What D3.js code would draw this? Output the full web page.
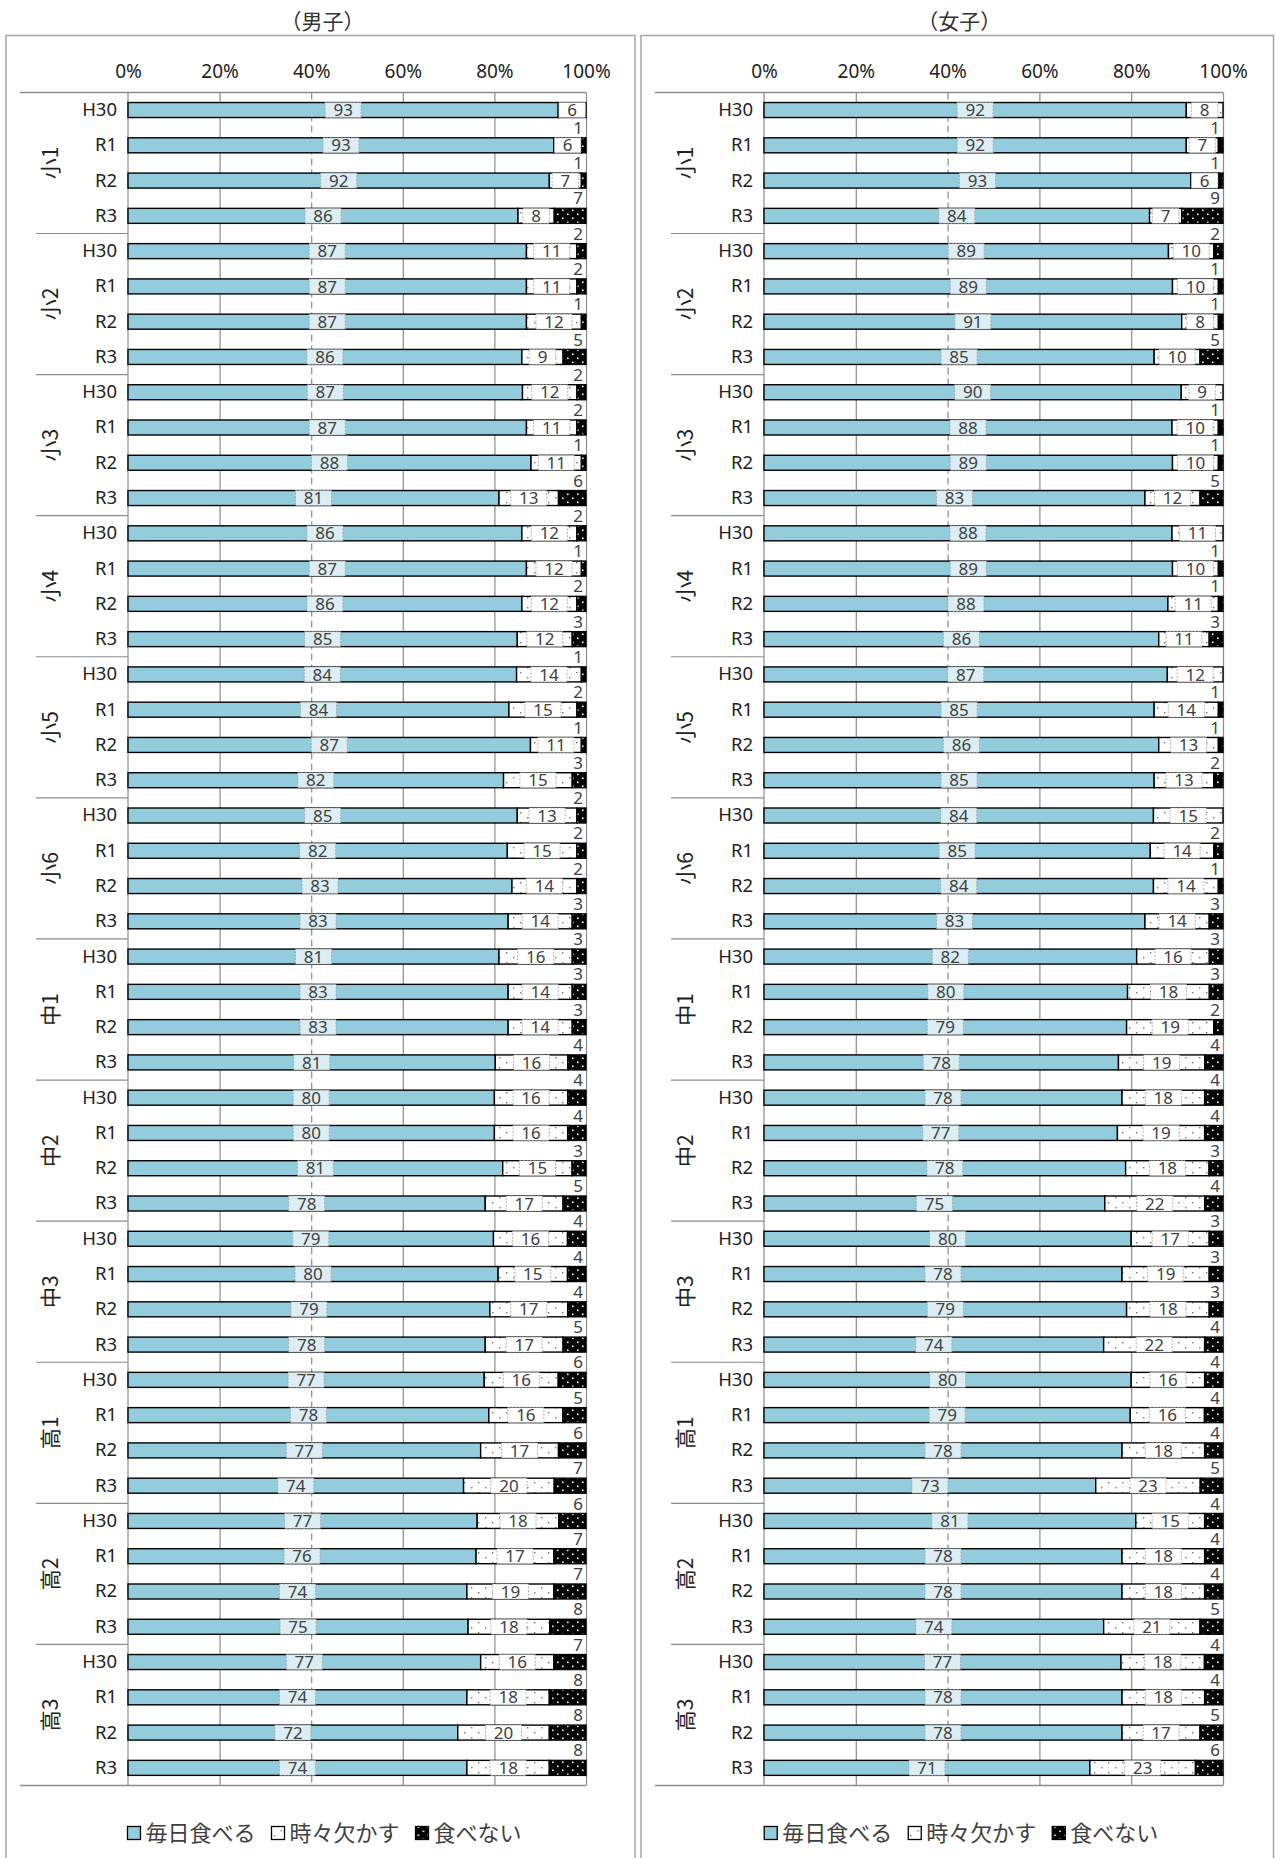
<!DOCTYPE html>
<html lang="ja">
<head>
<meta charset="utf-8">
<script src="https://cdn.jsdelivr.net/npm/d3@7"></script>
<style>
    body { margin: 0; background: #fff; }
    svg text { font-family: "Noto Sans", sans-serif; fill: #404040; }
    svg text.jp { font-family: "Noto Sans CJK JP", sans-serif; }
</style>
</head>
<body>
<svg id="chart-area" width="1276" height="1858"></svg>
<script>
// categories
const grades = ["小1", "小2", "小3", "小4", "小5", "小6", "中1", "中2", "中3", "高1", "高2", "高3"];
const years = ["H30", "R1", "R2", "R3"];
const seriesNames = ["毎日食べる", "時々欠かす", "食べない"];
const tickValues = [0, 0.2, 0.4, 0.6, 0.8, 1];

// 男子 (one value per grade x year, in the order above)
const boysDaily = [93, 93, 92, 86, 87, 87, 87, 86, 87, 87, 88, 81, 86, 87, 86, 85,
    84, 84, 87, 82, 85, 82, 83, 83, 81, 83, 83, 81, 80, 80, 81, 78,
    79, 80, 79, 78, 77, 78, 77, 74, 77, 76, 74, 75, 77, 74, 72, 74];
const boysSometimes = [6, 6, 7, 8, 11, 11, 12, 9, 12, 11, 11, 13, 12, 12, 12, 12,
    14, 15, 11, 15, 13, 15, 14, 14, 16, 14, 14, 16, 16, 16, 15, 17,
    16, 15, 17, 17, 16, 16, 17, 20, 18, 17, 19, 18, 16, 18, 20, 18];
const boysNever = [null, 1, 1, 7, 2, 2, 1, 5, 2, 2, 1, 6, 2, 1, 2, 3,
    1, 2, 1, 3, 2, 2, 2, 3, 3, 3, 3, 4, 4, 4, 3, 5,
    4, 4, 4, 5, 6, 5, 6, 7, 6, 7, 7, 8, 7, 8, 8, 8];

// 女子
const girlsDaily = [92, 92, 93, 84, 89, 89, 91, 85, 90, 88, 89, 83, 88, 89, 88, 86,
    87, 85, 86, 85, 84, 85, 84, 83, 82, 80, 79, 78, 78, 77, 78, 75,
    80, 78, 79, 74, 80, 79, 78, 73, 81, 78, 78, 74, 77, 78, 78, 71];
const girlsSometimes = [8, 7, 6, 7, 10, 10, 8, 10, 9, 10, 10, 12, 11, 10, 11, 11,
    12, 14, 13, 13, 15, 14, 14, 14, 16, 18, 19, 19, 18, 19, 18, 22,
    17, 19, 18, 22, 16, 16, 18, 23, 15, 18, 18, 21, 18, 18, 17, 23];
const girlsNever = [null, 1, 1, 9, 2, 1, 1, 5, null, 1, 1, 5, null, 1, 1, 3,
    null, 1, 1, 2, null, 2, 1, 3, 3, 3, 2, 4, 4, 4, 3, 4,
    3, 3, 3, 4, 4, 4, 4, 5, 4, 4, 4, 5, 4, 4, 5, 6];

const svg = d3.select("#chart-area");

// fill patterns
const defs = svg.append("defs");
const dotsLight = defs.append("pattern").attr("id", "dots-light")
    .attr("width", 14).attr("height", 10).attr("patternUnits", "userSpaceOnUse");
dotsLight.append("rect").attr("width", 14).attr("height", 10).attr("fill", "#fff");
dotsLight.append("rect").attr("x", 2).attr("y", 2).attr("width", 1.4).attr("height", 1.4).attr("fill", "#777");
dotsLight.append("rect").attr("x", 9).attr("y", 7).attr("width", 1.4).attr("height", 1.4).attr("fill", "#777");

const dotsDark = defs.append("pattern").attr("id", "dots-dark")
    .attr("width", 10).attr("height", 8).attr("patternUnits", "userSpaceOnUse");
dotsDark.append("rect").attr("width", 10).attr("height", 8).attr("fill", "#000");
dotsDark.append("rect").attr("x", 2).attr("y", 1.5).attr("width", 1.6).attr("height", 1.6).attr("fill", "#fff");
dotsDark.append("rect").attr("x", 7).attr("y", 5.5).attr("width", 1.6).attr("height", 1.6).attr("fill", "#fff");

const segFill = ["#93CDDD", "url(#dots-light)", "url(#dots-dark)"];

class StackedBarChart {
    constructor(parent, title, daily, sometimes, never, frame, xRange) {
        this.parent = parent;
        this.title = title;
        this.daily = daily;
        this.sometimes = sometimes;
        this.never = never;
        this.frame = frame;
        this.xRange = xRange;
        this.initVis();
    }

    initVis() {
        const vis = this;
        vis.top = 92.4;
        vis.bottom = 1785.5;
        vis.g = vis.parent.append("g");

        // panel frame + title
        vis.g.append("rect")
            .attr("x", vis.frame[0]).attr("y", 35.5)
            .attr("width", vis.frame[1] - vis.frame[0]).attr("height", 1900)
            .attr("fill", "none").attr("stroke", "#a6a6a6").attr("stroke-width", 1.5);
        vis.g.append("text").attr("class", "jp")
            .attr("x", (vis.frame[0] + vis.frame[1]) / 2 + 2).attr("y", 29)
            .attr("text-anchor", "middle").attr("font-size", 21).style("fill", "#333")
            .text(vis.title);

        vis.rows = [];
        grades.forEach((gr, gi) => years.forEach((yr, yi) => {
            const i = gi * 4 + yi;
            vis.rows.push({ key: gr + "|" + yr, grade: gr, year: yr,
                v: [vis.daily[i], vis.sometimes[i], vis.never[i]] });
        }));

        vis.x = d3.scaleLinear().domain([0, 1]).range(vis.xRange);
        vis.y = d3.scaleBand().domain(vis.rows.map(d => d.key))
            .range([vis.top, vis.bottom]).paddingInner(0.575).paddingOuter(0.2875);

        // vertical grid lines
        vis.g.append("g")
            .attr("transform", `translate(0, ${vis.top})`)
            .call(d3.axisBottom(vis.x).tickValues(tickValues.slice(1)).tickSize(vis.bottom - vis.top).tickFormat(""))
            .call(g => g.select(".domain").remove())
            .call(g => g.selectAll(".tick line").attr("stroke", "#8c8c8c").attr("stroke-width", 1.2)
                .attr("stroke-dasharray", d => d === 0.4 ? "7,4" : null));

        // top / bottom frame lines and 0% axis
        [vis.top, vis.bottom].forEach(yy => {
            vis.g.append("line").attr("x1", 20 + vis.frame[0] - 6).attr("x2", vis.xRange[1])
                .attr("y1", yy).attr("y2", yy).attr("stroke", "#8c8c8c").attr("stroke-width", 1.5);
        });
        vis.g.append("line").attr("x1", vis.xRange[0]).attr("x2", vis.xRange[0])
            .attr("y1", vis.top).attr("y2", vis.bottom).attr("stroke", "#8c8c8c").attr("stroke-width", 1.2);

        // group separators
        grades.slice(1).forEach(gr => {
            const yy = vis.y(gr + "|H30") - vis.y.step() * vis.y.paddingInner() / 2;
            vis.g.append("line").attr("x1", 36 + vis.frame[0] - 6).attr("x2", vis.xRange[0])
                .attr("y1", yy).attr("y2", yy).attr("stroke", "#8c8c8c").attr("stroke-width", 1.2);
        });

        // percentage axis
        vis.g.append("g")
            .attr("transform", `translate(0, ${vis.top})`)
            .call(d3.axisTop(vis.x).tickValues(tickValues).tickFormat(d3.format(".0%")).tickSize(0).tickPadding(14))
            .call(g => g.select(".domain").remove())
            .call(g => g.selectAll("text").attr("font-size", 19).style("fill", "#222")
                .style("font-family", '"Noto Sans", sans-serif'));

        // year labels
        vis.g.append("g")
            .attr("transform", `translate(${vis.xRange[0]}, 0)`)
            .call(d3.axisLeft(vis.y).tickSize(0).tickPadding(11).tickFormat(k => k.split("|")[1]))
            .call(g => g.select(".domain").remove())
            .call(g => g.selectAll("text").attr("font-size", 18.5).style("fill", "#222")
                .style("font-family", '"Noto Sans", sans-serif'));

        // grade labels
        vis.g.selectAll(".grade").data(grades).join("text")
            .attr("class", "grade jp")
            .attr("transform", gr => {
                const yc = (vis.y(gr + "|H30") + vis.y(gr + "|R3") + vis.y.bandwidth()) / 2;
                return `translate(${vis.frame[0] + 45}, ${yc}) rotate(-90)`;
            })
            .attr("text-anchor", "middle").attr("dy", "0.35em")
            .attr("font-size", 21).style("fill", "#222")
            .text(d => d);

        vis.updateVis();
        vis.drawLegend();
    }

    updateVis() {
        const vis = this;
        const stack = d3.stack().keys([0, 1, 2])
            .value((d, k) => d.v[k] || 0)
            .offset(d3.stackOffsetExpand);
        vis.series = stack(vis.rows);

        const layers = vis.g.selectAll(".layer").data(vis.series).join("g")
            .attr("class", "layer")
            .attr("fill", s => segFill[s.key]);

        layers.selectAll("rect").data(s => s.filter(d => d[1] > d[0])).join("rect")
            .attr("x", d => vis.x(d[0]))
            .attr("y", d => vis.y(d.data.key))
            .attr("width", d => vis.x(d[1]) - vis.x(d[0]))
            .attr("height", vis.y.bandwidth())
            .attr("stroke", "#000")
            .attr("stroke-width", 1.4);

        // labels inside bars (first two series)
        const bw = vis.y.bandwidth();
        const boxW = v => String(v).length * 9.5 + 17;
        [0, 1].forEach(k => {
            const lab = vis.g.append("g").selectAll("g").data(vis.series[k]).join("g")
                .attr("transform", d => `translate(${(vis.x(d[0]) + vis.x(d[1])) / 2}, ${vis.y(d.data.key) + bw / 2})`);
            lab.append("rect")
                .attr("x", d => -boxW(d.data.v[k]) / 2)
                .attr("y", -bw / 2)
                .attr("width", d => boxW(d.data.v[k]))
                .attr("height", bw)
                .attr("fill", k === 0 ? "#DCEEF3" : "#fff")
                .attr("stroke", "#a0a0a0").attr("stroke-width", 0.8)
                .attr("stroke-dasharray", "2,1.5");
            lab.append("text")
                .attr("text-anchor", "middle").attr("dy", "0.36em")
                .attr("font-size", 17)
                .text(d => d.data.v[k]);
        });

        // 食べない values above the bars
        vis.g.append("g").selectAll("text")
            .data(vis.series[2].filter(d => d.data.v[2] != null))
            .join("text")
            .attr("x", vis.xRange[1] - 8)
            .attr("y", d => vis.y(d.data.key) + bw / 2 - 17.5)
            .attr("text-anchor", "middle").attr("dy", "0.36em")
            .attr("font-size", 17)
            .text(d => d.data.v[2]);
    }

    drawLegend() {
        const vis = this;
        const cx = (vis.frame[0] + vis.frame[1]) / 2 + 4;
        const ly = 1833;
        const lg = vis.g.append("g");
        const items = lg.selectAll("g").data(seriesNames).join("g");
        items.append("rect")
            .attr("width", 13).attr("height", 13).attr("y", -6.5)
            .attr("fill", (d, i) => segFill[i])
            .attr("stroke", "#000").attr("stroke-width", 1.3);
        items.append("text").attr("class", "jp")
            .attr("x", 18).attr("dy", "0.35em")
            .attr("font-size", 22).style("fill", "#404040")
            .text(d => d);
        let widths = [];
        items.each(function () { widths.push(18 + this.querySelector("text").getComputedTextLength()); });
        const gap = 16;
        const total = d3.sum(widths) + gap * (widths.length - 1);
        let pos = cx - total / 2;
        items.attr("transform", (d, i) => {
            const t = `translate(${pos}, ${ly})`;
            pos += widths[i] + gap;
            return t;
        });
    }
}

new StackedBarChart(svg, "（男子）", boysDaily, boysSometimes, boysNever, [6, 635], [128, 586]);
new StackedBarChart(svg, "（女子）", girlsDaily, girlsSometimes, girlsNever, [641, 1273.5], [764, 1223]);
</script>
</body>
</html>
